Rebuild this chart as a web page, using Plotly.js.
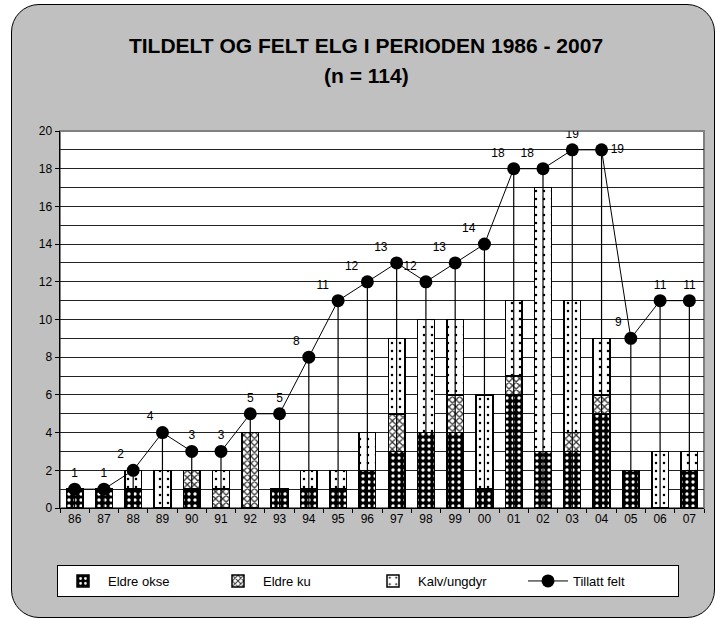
<!DOCTYPE html>
<html>
<head>
<meta charset="utf-8">
<script src="https://cdn.plot.ly/plotly-3.0.1.min.js"></script>
<style>
  html, body { margin: 0; padding: 0; background: #ffffff; }
  #wrap { position: absolute; left: 11px; top: 4px; width: 702px; height: 612px;
          border: 1px solid #000; border-radius: 28px; background: #c0c0c0; }
  #chart { position: absolute; left: 0; top: 0; width: 716px; height: 619px; }
</style>
</head>
<body>
<div id="wrap"></div>
<div id="chart"></div>
<script>
const years = ['86','87','88','89','90','91','92','93','94','95','96','97','98','99','00','01','02','03','04','05','06','07'];
const eldreOkse = [1,1,1,0,1,0,0,1,1,1,2,3,4,4,1,6,3,3,5,2,0,2];
const eldreKu   = [0,0,0,0,1,1,4,0,0,0,0,2,0,2,0,1,0,1,1,0,0,0];
const kalv      = [0,0,1,2,0,1,0,0,1,1,2,4,6,4,5,4,14,7,3,0,3,1];
const tillatt   = [1,1,2,4,3,3,5,5,8,11,12,13,12,13,14,18,18,19,19,9,11,11];
const labelPos  = ['top center','top center','top left','top left','top center','top center','top center','top center',
                   'top left','top left','top left','top left','top left','top left','top left','top left','top left',
                   'top center','middle right','top left','top center','top center'];

const FONT = 'Liberation Sans, Arial, sans-serif';
const barLine = {color: '#000000', width: 1.5};
const traces = [
  {type: 'bar', name: 'Eldre okse', x: years, y: eldreOkse,
   marker: {color: '#000000', line: barLine,
            pattern: {shape: '.', fgcolor: '#ffffff', bgcolor: '#000000', size: 6, solidity: 0.25}}},
  {type: 'bar', name: 'Eldre ku', x: years, y: eldreKu,
   marker: {color: '#ffffff', line: barLine,
            pattern: {shape: 'x', fgcolor: '#333333', bgcolor: '#ffffff', size: 5, solidity: 0.45}}},
  {type: 'bar', name: 'Kalv/ungdyr', x: years, y: kalv,
   marker: {color: '#ffffff', line: barLine,
            pattern: {shape: '.', fgcolor: '#000000', bgcolor: '#ffffff', size: 8, solidity: 0.08}}},
  {type: 'scatter', mode: 'lines+markers+text', name: 'Tillatt felt', x: years, y: tillatt,
   text: tillatt.map(String), textposition: labelPos,
   textfont: {family: FONT, size: 12, color: '#000'},
   line: {color: '#000000', width: 1},
   marker: {color: '#000000', size: 13, symbol: 'circle'},
   error_y: {type: 'data', symmetric: false, array: tillatt.map(() => 0), arrayminus: tillatt,
             width: 0, thickness: 1.2, color: '#000000'}}
];

const layout = {
  width: 716, height: 619,
  paper_bgcolor: 'rgba(0,0,0,0)',
  plot_bgcolor: '#ffffff',
  margin: {l: 60, r: 12, t: 131, b: 111, autoexpand: false},
  font: {family: FONT, size: 12, color: '#000'},
  barmode: 'stack',
  bargap: 0.43,
  showlegend: true,
  title: {text: '<b>TILDELT OG FELT ELG I PERIODEN 1986 - 2007</b>',
          font: {family: FONT, size: 21, color: '#000'},
          xref: 'container', x: 366 / 716, xanchor: 'center',
          yref: 'container', y: 1 - 46/619, yanchor: 'middle'},
  annotations: [{text: '<b>(n = 114)</b>', xref: 'paper', yref: 'paper',
                 x: (366 - 60) / 644, y: 1 + (131 - 75) / 377, xanchor: 'center', yanchor: 'middle',
                 showarrow: false, font: {family: FONT, size: 21, color: '#000'}}],
  xaxis: {type: 'category', range: [-0.5, years.length - 0.5], showline: true, linecolor: '#000', linewidth: 1,
          ticks: 'outside', ticklen: 4, tickcolor: '#000', tickson: 'boundaries',
          showgrid: false, zeroline: false, tickfont: {size: 12}},
  yaxis: {range: [0, 20], dtick: 2, showline: true, linecolor: '#000', linewidth: 1.5,
          ticks: 'outside', ticklen: 4, tickcolor: '#000',
          showgrid: true, gridcolor: '#222', gridwidth: 1, zeroline: false,
          minor: {dtick: 1, showgrid: true, gridcolor: '#222', gridwidth: 1},
          tickfont: {size: 12}},
  shapes: [{type: 'rect', xref: 'paper', yref: 'paper', x0: 0, x1: 1, y0: 0, y1: 1,
            line: {color: '#808080', width: 2}, layer: 'below'}],
  legend: {orientation: 'h', x: (57 - 60) / 644, y: (508 - 565) / 377, xanchor: 'left', yanchor: 'top',
           bgcolor: '#ffffff', bordercolor: '#000', borderwidth: 1,
           font: {family: FONT, size: 13}, entrywidth: 100, itemwidth: 40, traceorder: 'normal'}
};

Plotly.newPlot('chart', traces, layout, {displayModeBar: false, staticPlot: true});
</script>
</body>
</html>
